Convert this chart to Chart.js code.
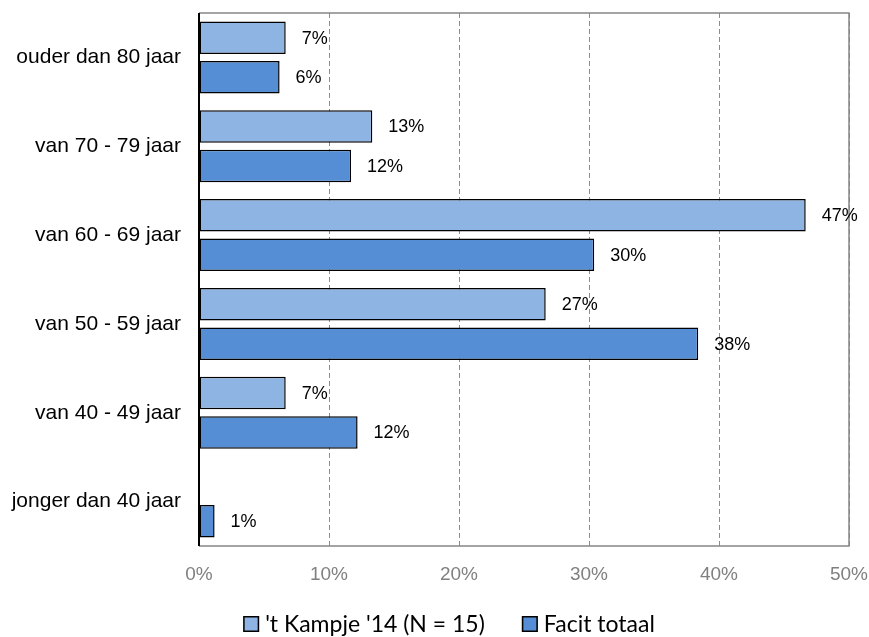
<!DOCTYPE html>
<html>
<head>
<meta charset="utf-8">
<script src="https://cdn.jsdelivr.net/npm/chart.js@4/dist/chart.umd.min.js"></script>
<style>
  html, body { margin: 0; padding: 0; background: #ffffff; }
  #wrap { width: 869px; height: 637px; position: relative; }
</style>
</head>
<body>
<div id="wrap"><canvas id="chart" width="869" height="637"></canvas></div>
<script>
// Age groups, top to bottom
const categories = [
  'ouder dan 80 jaar',
  'van 70 - 79 jaar',
  'van 60 - 69 jaar',
  'van 50 - 59 jaar',
  'van 40 - 49 jaar',
  'jonger dan 40 jaar'
];

// Share of respondents per age group (%)
const kampjeValues = [6.67, 13.33, 46.67, 26.67, 6.67, 0];
const facitValues  = [6.2, 11.7, 30.4, 38.4, 12.2, 1.2];

const seriesNames = ["'t Kampje '14 (N = 15)", 'Facit totaal'];
const xTickValues = [0, 10, 20, 30, 40, 50];

const LIGHT = '#8EB4E3';
const DARK  = '#558ED5';
const LABEL_FONT = '"Liberation Sans", Arial, sans-serif';

// Solid frame on the top, right and bottom of the plot area, black value axis on the left
const framePlugin = {
  id: 'frame',
  beforeDatasetsDraw(chart) {
    const { ctx, chartArea: a } = chart;
    ctx.save();
    ctx.setLineDash([]);
    ctx.strokeStyle = '#868686';
    ctx.lineWidth = 1.5;
    ctx.beginPath();
    ctx.moveTo(a.left, a.top);
    ctx.lineTo(a.right, a.top);
    ctx.lineTo(a.right, a.bottom);
    ctx.lineTo(a.left, a.bottom);
    ctx.stroke();
    ctx.strokeStyle = '#000000';
    ctx.lineWidth = 2;
    ctx.beginPath();
    ctx.moveTo(a.left, a.top);
    ctx.lineTo(a.left, a.bottom);
    ctx.stroke();
    ctx.restore();
  }
};

// Percentage labels to the right of each bar
const valueLabels = {
  id: 'valueLabels',
  afterDatasetsDraw(chart) {
    const { ctx } = chart;
    ctx.save();
    ctx.font = '18px ' + LABEL_FONT;
    ctx.fillStyle = '#000000';
    ctx.textAlign = 'left';
    ctx.textBaseline = 'middle';
    chart.data.datasets.forEach((ds, di) => {
      const meta = chart.getDatasetMeta(di);
      meta.data.forEach((bar, i) => {
        const v = ds.data[i];
        if (!v) return;
        ctx.fillText(Math.round(v) + '%', bar.x + 16, bar.y + 1);
      });
    });
    ctx.restore();
  }
};

// Legend row centred under the plot
const legendRow = {
  id: 'legendRow',
  afterDraw(chart) {
    const { ctx } = chart;
    const box = 16, gapText = 6, gapItem = 37, cy = 624, centre = 449;
    ctx.save();
    ctx.font = '23px Lato, "Open Sans", sans-serif';
    ctx.textBaseline = 'middle';
    ctx.textAlign = 'left';
    const items = chart.data.datasets.map(ds => ({
      text: ds.label, color: ds.backgroundColor, w: ctx.measureText(ds.label).width
    }));
    const total = items.reduce((s, it) => s + box + gapText + it.w, 0) + gapItem * (items.length - 1);
    let x = centre - total / 2;
    items.forEach(it => {
      ctx.fillStyle = it.color;
      ctx.fillRect(x, cy - box / 2, box, box);
      ctx.strokeStyle = '#000000';
      ctx.lineWidth = 1.5;
      ctx.strokeRect(x + 0.75, cy - box / 2 + 0.75, box - 1.5, box - 1.5);
      ctx.fillStyle = '#000000';
      ctx.fillText(it.text, x + box + gapText, cy + 1);
      x += box + gapText + it.w + gapItem;
    });
    ctx.restore();
  }
};

new Chart(document.getElementById('chart'), {
  type: 'bar',
  data: {
    labels: categories,
    datasets: [
      {
        label: seriesNames[0],
        data: kampjeValues,
        backgroundColor: LIGHT,
        borderColor: '#000000',
        borderWidth: 1.5,
        borderSkipped: false
      },
      {
        label: seriesNames[1],
        data: facitValues,
        backgroundColor: DARK,
        borderColor: '#000000',
        borderWidth: 1.5,
        borderSkipped: false
      }
    ]
  },
  options: {
    indexAxis: 'y',
    responsive: false,
    animation: false,
    devicePixelRatio: 1,
    categoryPercentage: 0.89,
    barPercentage: 0.823,
    layout: { padding: { left: 0, right: 20, top: 13, bottom: 0 } },
    scales: {
      x: {
        min: 0,
        max: 50,
        afterBuildTicks(scale) {
          scale.ticks = xTickValues.map(v => ({ value: v }));
        },
        afterFit(scale) {
          scale.height = 637 - 546;
          scale.paddingLeft = 0;
          scale.paddingRight = 0;
        },
        grid: {
          color: '#8c8c8c',
          lineWidth: 1,
          drawTicks: false
        },
        border: { display: false, dash: [5, 3] },
        ticks: {
          padding: 17,
          color: '#808080',
          font: { family: LABEL_FONT, size: 19 },
          callback: v => v + '%'
        }
      },
      y: {
        afterFit(scale) {
          scale.width = 199;
          scale.paddingTop = 0;
          scale.paddingBottom = 0;
        },
        grid: { display: false, drawTicks: false },
        border: { display: false },
        ticks: {
          padding: 18,
          color: '#000000',
          font: { family: LABEL_FONT, size: 21 }
        }
      }
    },
    plugins: {
      legend: { display: false },
      tooltip: { enabled: false }
    }
  },
  plugins: [framePlugin, valueLabels, legendRow]
});
</script>
</body>
</html>
